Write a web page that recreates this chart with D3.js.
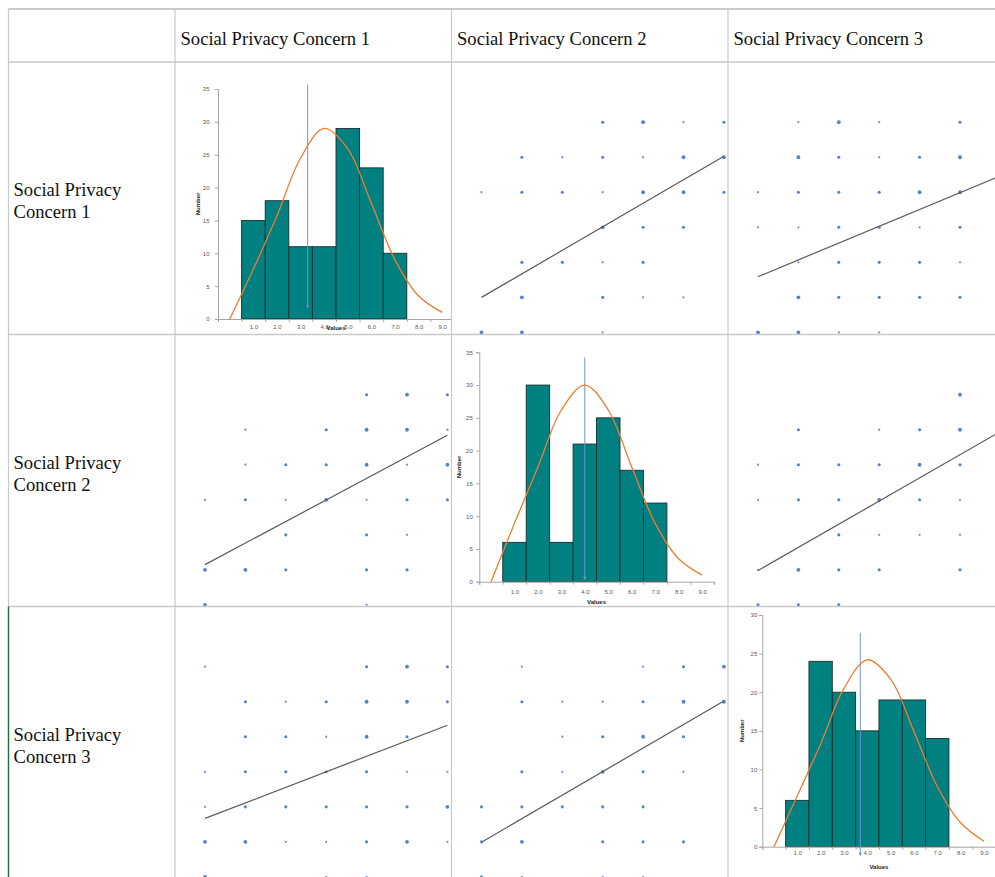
<!DOCTYPE html>
<html>
<head>
<meta charset="utf-8">
<script src="https://cdn.jsdelivr.net/npm/d3@7"></script>
<style>
  html, body { margin: 0; padding: 0; background: #ffffff; }
  svg { display: block; }
</style>
</head>
<body>
<svg id="chart" width="995" height="877"></svg>
<script>
// ---- data -------------------------------------------------------------
const variables = ["Social Privacy Concern 1", "Social Privacy Concern 2", "Social Privacy Concern 3"];
const rowLabelLines = [["Social Privacy", "Concern 1"], ["Social Privacy", "Concern 2"], ["Social Privacy", "Concern 3"]];

// histogram bins (Likert score 1..7) and counts
const binValues = [1, 2, 3, 4, 5, 6, 7];
const histCounts1 = [15, 18, 11, 11, 29, 23, 10];
const histCounts2 = [6, 30, 6, 21, 25, 17, 12];
const histCounts3 = [6, 24, 20, 15, 19, 19, 14];

// fitted normal curve, sampled at each category of the value axis
const curveX = [0, 1, 2, 3, 4, 5, 6, 7, 8, 9];
const normalCurve1 = [0, 7.6, 15.7, 24.5, 29.0, 25.9, 17.6, 9.0, 3.5, 1.0];
const normalCurve2 = [0, 8.9, 17.5, 26.2, 30.0, 26.2, 17.5, 8.9, 3.5, 1.0];
const normalCurve3 = [0, 6.6, 13.3, 20.5, 24.2, 21.7, 14.9, 7.8, 3.1, 0.7];

// vertical reference line of each histogram: x value, top and bottom (in counts)
const refLineX = [3.3, 4.0, 3.7];
const refLineTop = [35.7, 34.2, 27.7];
const refLineBottom = [1.9, 0.5, -1.0];

// axis ticks
const histYMax = [35, 35, 30];
const histYTicks1 = [0, 5, 10, 15, 20, 25, 30, 35];
const histYTicks2 = [0, 5, 10, 15, 20, 25, 30, 35];
const histYTicks3 = [0, 5, 10, 15, 20, 25, 30];
const xTickValues = [1, 2, 3, 4, 5, 6, 7, 8, 9];
const xTickLabels = ["1.0", "2.0", "3.0", "4.0", "5.0", "6.0", "7.0", "8.0", "9.0"];
const xCategoryEdges = [-0.5, 0.5, 1.5, 2.5, 3.5, 4.5, 5.5, 6.5, 7.5, 8.5, 9.5];

// response pairs [first, second, overlap weight]
const pairs12 = [ // [SPC1, SPC2, w]
  [1,1,3],[1,2,3],[1,4,1],
  [2,2,3],[2,4,2],[2,5,1],[2,6,1],
  [3,2,2],[3,3,2],[3,4,1],[3,5,2],
  [4,4,3],[4,5,2],[4,6,2],
  [5,1,1],[5,2,2],[5,3,2],[5,4,1],[5,5,3],[5,6,3],[5,7,2],
  [6,2,2],[6,3,1],[6,4,2],[6,5,1],[6,6,3],[6,7,3],
  [7,4,2],[7,5,3],[7,6,1],[7,7,2]
];
const pairs13 = [ // [SPC1, SPC3, w]
  [1,1,3],[1,2,3],[1,3,1],[1,4,1],[1,7,1],
  [2,2,3],[2,3,2],[2,4,2],[2,5,2],[2,6,2],
  [3,2,1],[3,3,2],[3,4,2],[3,5,2],[3,6,1],
  [4,1,1],[4,2,1],[4,3,2],[4,4,2],[4,5,1],[4,6,2],
  [5,1,1],[5,2,2],[5,3,2],[5,4,2],[5,5,3],[5,6,3],[5,7,2],
  [6,2,3],[6,3,2],[6,4,1],[6,5,2],[6,6,3],[6,7,3],
  [7,2,1],[7,3,3],[7,4,1],[7,6,2],[7,7,2]
];
const pairs23 = [ // [SPC2, SPC3, w]
  [1,1,2],[1,2,2],[1,3,2],
  [2,1,1],[2,2,3],[2,3,2],[2,4,2],[2,6,2],[2,7,1],
  [3,3,2],[3,4,1],[3,5,1],[3,6,1],
  [4,1,1],[4,2,2],[4,3,2],[4,4,3],[4,5,2],[4,6,1],
  [5,1,1],[5,2,2],[5,3,2],[5,4,2],[5,5,3],[5,6,2],[5,7,1],
  [6,2,2],[6,4,1],[6,5,2],[6,6,3],[6,7,2],
  [7,6,3],[7,7,3]
];

// least-squares trend line of each scatter cell: fitted y at x = 1 and x = 7
const trendRow1Col2 = [2.00, 6.03];
const trendRow1Col3 = [2.59, 5.47];
const trendRow2Col1 = [2.15, 5.84];
const trendRow2Col3 = [1.98, 5.95];
const trendRow3Col1 = [2.67, 5.33];
const trendRow3Col2 = [1.99, 6.02];

// ---- layout -----------------------------------------------------------
const colEdges = [8.5, 175, 451.5, 728, 1010];
const rowEdges = [9, 62, 334.5, 606.5, 900];

const histFrames = [
  { x0: 218,   y0: 319,   yTop: 89,    unit: 23.6,  tickGap: 8.5, labelDy: 8.4, titleDy: 8.4 },
  { x0: 479.3, y0: 581.7, yTop: 352.3, unit: 23.45, tickGap: 6.5, labelDy: 10,  titleDy: 20 },
  { x0: 762.3, y0: 846.7, yTop: 615,   unit: 23.33, tickGap: 5,   labelDy: 6.6, titleDy: 20 }
];

const colors = {
  grid: "#c9c9c9",
  text: "#111111",
  bar: "#008080",
  barStroke: "#16302f",
  curve: "#ED7D31",
  ref: "#6f93d8",
  axis: "#a6a6a6",
  tick: "#595959",
  dot: "#4472C4",
  trend: "#5a5a5a",
  green: "#1f6e43"
};

const svg = d3.select("#chart");
const defs = svg.append("defs");

// one clip rectangle per cell
for (let r = 0; r < 3; r++) {
  for (let c = 0; c < 3; c++) {
    defs.append("clipPath").attr("id", `cell-${r}-${c}`)
      .append("rect")
      .attr("x", colEdges[c + 1]).attr("y", rowEdges[r + 1])
      .attr("width", colEdges[c + 2] - colEdges[c + 1])
      .attr("height", rowEdges[r + 2] - rowEdges[r + 1]);
  }
}

defs.append("marker").attr("id", "ref-arrow")
  .attr("viewBox", "0 0 10 10").attr("refX", 5).attr("refY", 5)
  .attr("markerWidth", 4).attr("markerHeight", 4).attr("orient", "auto")
  .append("path").attr("d", "M0,1 L10,5 L0,9 Z").attr("fill", colors.ref);

// ---- scatter cells ----------------------------------------------------
function scatterCell(r, c, points, trend) {
  const left = colEdges[c + 1], top = rowEdges[r + 1];
  const x = d3.scaleLinear().domain([1, 7]).range([left + 30, left + 272.4]);
  const y = d3.scaleLinear().domain([1, 7]).range([top + 270.4, top + 60.2]);
  const rScale = d3.scaleOrdinal().domain([1, 2, 3]).range([1.15, 1.55, 1.9]);
  const g = svg.append("g").attr("clip-path", `url(#cell-${r}-${c})`);
  g.selectAll("circle").data(points).join("circle")
    .attr("cx", d => x(d[0])).attr("cy", d => y(d[1]))
    .attr("r", d => rScale(d[2]))
    .attr("fill", colors.dot)
    .attr("fill-opacity", d => d[2] === 1 ? 0.75 : 0.9);
  g.append("line")
    .attr("x1", x(1)).attr("y1", y(trend[0]))
    .attr("x2", x(7)).attr("y2", y(trend[1]))
    .attr("stroke", colors.trend).attr("stroke-width", 1.2);
}

const swap = p => [p[1], p[0], p[2]];
// cell (row, col): x = column variable, y = row variable
scatterCell(0, 1, pairs12.map(swap), trendRow1Col2);
scatterCell(0, 2, pairs13.map(swap), trendRow1Col3);
scatterCell(1, 0, pairs12, trendRow2Col1);
scatterCell(1, 2, pairs23.map(swap), trendRow2Col3);
scatterCell(2, 0, pairs13, trendRow3Col1);
scatterCell(2, 1, pairs23, trendRow3Col2);

// ---- histogram cells --------------------------------------------------
function histogramCell(i, counts, curve, yTicks) {
  const f = histFrames[i];
  const g = svg.append("g").attr("clip-path", `url(#cell-${i}-${i})`);
  const x = d3.scaleLinear().domain([-0.5, 9.5]).range([f.x0, f.x0 + 10 * f.unit]);
  const y = d3.scaleLinear().domain([0, histYMax[i]]).range([f.y0, f.yTop]);
  const font = "'Liberation Sans', Arial, sans-serif";

  // bars
  g.selectAll("rect.bar").data(binValues.map((v, k) => [v, counts[k]])).join("rect")
    .attr("class", "bar")
    .attr("x", d => x(d[0] - 0.5)).attr("width", d => x(d[0] + 0.5) - x(d[0] - 0.5))
    .attr("y", d => y(d[1])).attr("height", d => y(0) - y(d[1]))
    .attr("fill", colors.bar).attr("stroke", colors.barStroke).attr("stroke-width", 0.9);

  // y axis
  const yAxis = g.append("g").attr("transform", `translate(${f.x0},0)`)
    .call(d3.axisLeft(y).tickValues(yTicks).tickSize(3).tickPadding(f.tickGap - 3).tickFormat(d3.format("d")));
  yAxis.select(".domain").attr("stroke", colors.axis);
  yAxis.selectAll(".tick line").attr("stroke", colors.axis);
  yAxis.selectAll(".tick text").attr("fill", colors.tick).attr("font-size", 6).attr("font-family", font);

  // x axis: marks on category edges, labels on category centres
  const xEdges = g.append("g").attr("transform", `translate(0,${f.y0})`)
    .call(d3.axisBottom(x).tickValues(xCategoryEdges).tickSize(3).tickFormat(""));
  xEdges.select(".domain").attr("stroke", colors.axis);
  xEdges.selectAll(".tick line").attr("stroke", colors.axis);
  const xLabels = g.append("g").attr("transform", `translate(0,${f.y0})`)
    .call(d3.axisBottom(x).tickValues(xTickValues).tickSize(0).tickPadding(f.labelDy - 2.2)
      .tickFormat((d, k) => xTickLabels[k]));
  xLabels.select(".domain").remove();
  xLabels.selectAll(".tick text").attr("fill", colors.tick).attr("font-size", 6).attr("font-family", font);

  // axis titles
  g.append("text")
    .attr("x", (x.range()[0] + x.range()[1]) / 2).attr("y", f.y0 + f.titleDy)
    .attr("dy", "0.35em").attr("text-anchor", "middle")
    .attr("font-size", 6).attr("font-weight", "bold").attr("font-family", font).attr("fill", "#262626")
    .text("Values");
  g.append("text")
    .attr("transform", `translate(${f.x0 - 20},${(f.y0 + f.yTop) / 2}) rotate(-90)`)
    .attr("dy", "0.35em").attr("text-anchor", "middle")
    .attr("font-size", 6).attr("font-weight", "bold").attr("font-family", font).attr("fill", "#262626")
    .text("Number");

  // reference line
  g.append("line")
    .attr("x1", x(refLineX[i])).attr("x2", x(refLineX[i]))
    .attr("y1", y(refLineTop[i])).attr("y2", y(refLineBottom[i]))
    .attr("stroke", colors.ref).attr("stroke-width", 1)
    .attr("marker-end", "url(#ref-arrow)");

  // fitted curve
  const line = d3.line().x(d => x(d[0])).y(d => y(d[1])).curve(d3.curveCatmullRom.alpha(0.5));
  g.append("path").datum(curveX.map((v, k) => [v, curve[k]]))
    .attr("d", line).attr("fill", "none")
    .attr("stroke", colors.curve).attr("stroke-width", 1.3);
}

histogramCell(0, histCounts1, normalCurve1, histYTicks1);
histogramCell(1, histCounts2, normalCurve2, histYTicks2);
histogramCell(2, histCounts3, normalCurve3, histYTicks3);

// ---- table grid -------------------------------------------------------
const grid = svg.append("g").attr("stroke", colors.grid).attr("stroke-width", 1.2);
rowEdges.slice(0, 4).forEach((yy, k) => {
  grid.append("line").attr("x1", colEdges[0]).attr("x2", 995)
    .attr("y1", yy).attr("y2", yy)
    .attr("stroke-width", k === 0 ? 1.8 : 1.4);
});
colEdges.slice(0, 4).forEach((xx, k) => {
  grid.append("line").attr("x1", xx).attr("x2", xx)
    .attr("y1", rowEdges[0]).attr("y2", k === 0 ? rowEdges[3] : 877);
});
svg.append("line").attr("x1", colEdges[0]).attr("x2", colEdges[0])
  .attr("y1", rowEdges[3]).attr("y2", 877)
  .attr("stroke", colors.green).attr("stroke-width", 1.4);

// ---- table text -------------------------------------------------------
const serif = "'Liberation Serif', 'Times New Roman', serif";
svg.selectAll("text.header").data(variables).join("text")
  .attr("class", "header")
  .attr("x", (d, k) => colEdges[k + 1] + 5.5).attr("y", 44.5)
  .attr("font-family", serif).attr("font-size", 18.6).attr("fill", colors.text)
  .text(d => d);

rowLabelLines.forEach((lines, r) => {
  const t = svg.append("text")
    .attr("font-family", serif).attr("font-size", 18.6).attr("fill", colors.text);
  lines.forEach((ln, k) => {
    t.append("tspan").attr("x", 13.5).attr("y", rowEdges[r + 1] + 134 + k * 22.4).text(ln);
  });
});
</script>
</body>
</html>
